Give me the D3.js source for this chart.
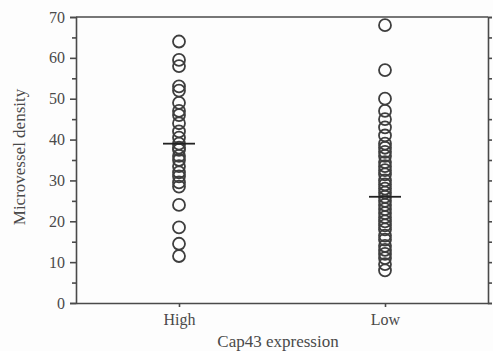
<!DOCTYPE html>
<html>
<head>
<meta charset="utf-8">
<script src="https://cdn.jsdelivr.net/npm/d3@7"></script>
<style>
  body { margin: 0; background: #fdfdfd; }
  text { font-family: "Liberation Serif", "Times New Roman", serif; fill: #4a4a4a; }
</style>
</head>
<body>
<div id="chart"></div>
<script>
// Groups on the x axis
const groups = ['High', 'Low'];

// Microvessel density per case
const highValues = [64, 59.5, 58, 53, 52, 49, 47, 46, 44, 42, 40.5, 39, 38, 37.5, 36, 35, 33.5, 32, 31, 29.5, 28.5, 24, 18.5, 14.5, 11.5];
const lowValues = [68, 57, 50, 47, 45, 43, 41, 39, 38, 37, 36, 34.5, 33.5, 32.5, 31.5, 30, 29, 28, 27, 26, 25, 24, 23, 22, 21, 20, 19, 18, 16.5, 15.5, 14, 13, 12, 11, 9.5, 8];

// Group means (horizontal bars)
const means = [39, 26];

const yTicks = [0, 10, 20, 30, 40, 50, 60, 70];

const W = 493, H = 351;
const margin = { top: 17, right: 5, bottom: 48, left: 76 };
const width = W - margin.left - margin.right;
const height = H - margin.top - margin.bottom;
const ink = '#4a4a4a';

const svg = d3.select('#chart')
  .append('svg')
  .attr('width', W)
  .attr('height', H);

const g = svg.append('g')
  .attr('transform', `translate(${margin.left},${margin.top})`);

const x = d3.scalePoint()
  .domain(groups)
  .range([0, width])
  .padding(0.5);

const y = d3.scaleLinear()
  .domain([0, 70])
  .range([height, 0]);

// Left axis: labelled major ticks and minor ticks at 5s
g.append('g')
  .call(d3.axisLeft(y).tickValues(d3.range(5, 70, 10)).tickSize(4).tickFormat(''))
  .call(a => a.select('.domain').remove());
g.append('g')
  .call(d3.axisLeft(y).tickValues(yTicks).tickSize(6).tickPadding(5));

// Right axis with outward ticks
g.append('g')
  .attr('transform', `translate(${width},0)`)
  .call(d3.axisRight(y).tickValues(d3.range(0, 71, 5)).tickSize(4).tickFormat(''));

// Top border
g.append('line')
  .attr('x1', 0).attr('x2', width)
  .attr('y1', 0).attr('y2', 0);

// Bottom axis
g.append('g')
  .attr('transform', `translate(0,${height})`)
  .call(d3.axisBottom(x).tickSize(4).tickPadding(7).tickSizeOuter(0));

g.selectAll('.domain, .tick line, line')
  .attr('stroke', ink)
  .attr('stroke-width', 1.6);
g.selectAll('.tick text')
  .attr('fill', ink)
  .style('font-size', '16px');

// Points
const pts = [
  ...highValues.map(v => ({ group: 'High', value: v })),
  ...lowValues.map(v => ({ group: 'Low', value: v }))
];

g.selectAll('circle')
  .data(pts)
  .join('circle')
  .attr('cx', d => x(d.group))
  .attr('cy', d => y(d.value))
  .attr('r', 6)
  .attr('fill', 'none')
  .attr('stroke', '#3e3e3e')
  .attr('stroke-width', 1.8);

// Mean bars
g.selectAll('.mean')
  .data(groups)
  .join('line')
  .attr('class', 'mean')
  .attr('x1', d => x(d) - 16)
  .attr('x2', d => x(d) + 16)
  .attr('y1', (d, i) => y(means[i]))
  .attr('y2', (d, i) => y(means[i]))
  .attr('stroke', '#222')
  .attr('stroke-width', 1.8);

// Axis titles
g.append('text')
  .attr('text-anchor', 'middle')
  .attr('x', width / 2 - 4)
  .attr('y', height + 44)
  .style('font-size', '17px')
  .text('Cap43 expression');

g.append('text')
  .attr('text-anchor', 'middle')
  .attr('transform', 'rotate(-90)')
  .attr('x', -(height / 2) + 3)
  .attr('y', -51)
  .style('font-size', '17px')
  .text('Microvessel density');
</script>
</body>
</html>
